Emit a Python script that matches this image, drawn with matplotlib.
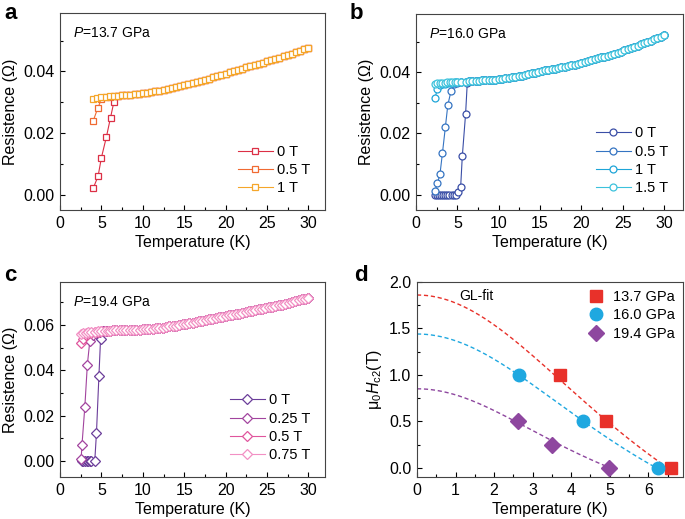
import numpy as np
import matplotlib
matplotlib.use("Agg")
import matplotlib.pyplot as plt
from matplotlib.ticker import MultipleLocator

plt.rcParams['font.family'] = ['Liberation Sans', 'DejaVu Sans']
plt.rcParams['mathtext.fontset'] = 'custom'
plt.rcParams['mathtext.rm'] = 'Liberation Sans'
plt.rcParams['mathtext.it'] = 'Liberation Sans:italic'

# ---------------- panel a, P = 13.7 GPa ----------------
a_normal_T = [7.0, 7.5, 8.0, 8.5, 9.0, 9.5, 10.0, 10.5, 11.0, 11.5, 12.0, 12.5,
              13.0, 13.5, 14.0, 14.5, 15.0, 15.5, 16.0, 16.5, 17.0, 17.5, 18.0,
              18.5, 19.0, 19.5, 20.0, 20.5, 21.0, 21.5, 22.0, 22.5, 23.0, 23.5,
              24.0, 24.5, 25.0, 25.5, 26.0, 26.5, 27.0, 27.5, 28.0, 28.5, 29.0,
              29.5, 30.0]
a_normal_R = [.0320, .0322, .0324, .0325, .0327, .0328, .0329, .0331, .0333,
              .0335, .0337, .0340, .0343, .0346, .0349, .0352, .0356, .0359,
              .0362, .0366, .0369, .0373, .0377, .0381, .0385, .0389, .0393,
              .0397, .0401, .0405, .0409, .0413, .0417, .0421, .0425, .0429,
              .0433, .0437, .0441, .0445, .0449, .0453, .0458, .0463, .0467,
              .0472, .0477]
a_fields = ['0 T', '0.5 T', '1 T']
a_low_T = [[4.0, 4.6, 5.0, 5.6, 6.1, 6.5],
           [4.0, 4.55, 5.0, 5.5, 6.0, 6.5],
           [4.0, 4.5, 5.0, 5.5, 6.0, 6.5]]
a_low_R = [[0.0020, 0.0060, 0.0120, 0.0187, 0.0250, 0.0300],
           [0.0239, 0.0280, 0.0310, 0.0316, 0.0318, 0.0319],
           [0.0310, 0.0315, 0.0317, 0.0318, 0.0319, 0.0320]]

# ---------------- panel b, P = 16.0 GPa ----------------
b_normal_T = [6.4, 6.8, 7.2, 7.6, 8.0, 8.4, 8.8, 9.2, 9.6, 10.0, 10.4, 10.8,
              11.2, 11.6, 12.0, 12.4, 12.8, 13.2, 13.6, 14.0, 14.4, 14.8, 15.2,
              15.6, 16.0, 16.4, 16.8, 17.2, 17.6, 18.0, 18.4, 18.8, 19.2, 19.6,
              20.0, 20.4, 20.8, 21.2, 21.6, 22.0, 22.4, 22.8, 23.2, 23.6, 24.0,
              24.4, 24.8, 25.2, 25.6, 26.0, 26.4, 26.8, 27.2, 27.6, 28.0, 28.4,
              28.8, 29.2, 29.6, 30.0]
b_normal_R = [.0370, .0370, .0371, .0372, .0373, .0373, .0374, .0375, .0376,
              .0377, .0378, .0380, .0381, .0383, .0385, .0387, .0389, .0391,
              .0393, .0396, .0398, .0401, .0403, .0406, .0408, .0410, .0412,
              .0414, .0416, .0418, .0420, .0422, .0425, .0427, .0430, .0433,
              .0436, .0439, .0442, .0445, .0448, .0451, .0454, .0457, .0460,
              .0464, .0467, .0471, .0475, .0479, .0483, .0487, .0491, .0495,
              .0499, .0503, .0507, .0511, .0516, .0521]
b_fields = ['0 T', '0.5 T', '1 T', '1.5 T']
b_low_T = [[2.3, 2.55, 2.8, 3.05, 3.3, 3.55, 3.8, 4.05, 4.3, 4.55, 4.8, 5.1,
            5.4, 5.6, 6.0, 6.2],
           [2.3, 2.6, 2.9, 3.2, 3.55, 3.85, 4.25, 4.55, 5.0, 5.5, 6.0],
           [2.3, 2.6, 2.9, 3.2, 3.5, 3.8, 4.1, 4.4, 4.7, 5.0, 5.5, 6.0],
           [2.3, 2.6, 2.9, 3.2, 3.5, 3.8, 4.1, 4.4, 4.7, 5.0, 5.5, 6.0]]
b_low_R = [[0, 0, 0, 0, 0, 0, 0, 0, 0, 0, 0, 0.0009, 0.0024, 0.0125, 0.0264,
            0.0364],
           [0.0013, 0.0038, 0.0067, 0.0136, 0.0220, 0.0293, 0.0340, 0.0360,
            0.0366, 0.0367, 0.0369],
           [0.0317, 0.0345, 0.0357, 0.0360, 0.0362, 0.0364, 0.0365, 0.0366,
            0.0367, 0.0367, 0.0368, 0.0369],
           [0.0362, 0.0364, 0.0365, 0.0366, 0.0366, 0.0367, 0.0367, 0.0367,
            0.0368, 0.0368, 0.0369, 0.0369]]

# ---------------- panel c, P = 19.4 GPa ----------------
c_normal_T = [6.0, 6.4, 6.8, 7.2, 7.6, 8.0, 8.4, 8.8, 9.2, 9.6, 10.0, 10.4,
              10.8, 11.2, 11.6, 12.0, 12.4, 12.8, 13.2, 13.6, 14.0, 14.4, 14.8,
              15.2, 15.6, 16.0, 16.4, 16.8, 17.2, 17.6, 18.0, 18.4, 18.8, 19.2,
              19.6, 20.0, 20.4, 20.8, 21.2, 21.6, 22.0, 22.4, 22.8, 23.2, 23.6,
              24.0, 24.4, 24.8, 25.2, 25.6, 26.0, 26.4, 26.8, 27.2, 27.6, 28.0,
              28.4, 28.8, 29.2, 29.6, 30.0]
c_normal_R = [.0576, .0577, .0577, .0577, .0578, .0578, .0578, .0579, .0579,
              .0580, .0581, .0582, .0583, .0584, .0586, .0587, .0589, .0591,
              .0594, .0596, .0598, .0600, .0603, .0605, .0608, .0610, .0613,
              .0616, .0619, .0622, .0625, .0628, .0631, .0634, .0637, .0640,
              .0643, .0646, .0648, .0651, .0654, .0657, .0660, .0663, .0666,
              .0669, .0672, .0675, .0678, .0681, .0684, .0687, .0690, .0693,
              .0697, .0701, .0705, .0709, .0713, .0717, .0721]
c_fields = ['0 T', '0.25 T', '0.5 T', '0.75 T']
c_low_T = [[2.6, 2.8, 3.0, 3.2, 3.4, 3.6, 3.8, 4.2, 4.4, 4.7, 4.9, 5.3, 5.7],
           [2.55, 2.65, 3.0, 3.3, 3.6, 4.0, 4.4, 4.8, 5.2, 5.6],
           [2.5, 2.8, 3.1, 3.4, 3.8, 4.2, 4.6, 5.0, 5.4, 5.8],
           [2.5, 2.8, 3.1, 3.4, 3.8, 4.2, 4.6, 5.0, 5.4, 5.8]]
c_low_R = [[0, 0, 0, 0, 0, 0, 0, 0.0002, 0.0122, 0.0376, 0.0540, 0.0572, 0.0575],
           [0.0009, 0.0070, 0.0240, 0.0424, 0.0530, 0.0556, 0.0565, 0.0570,
            0.0573, 0.0575],
           [0.0522, 0.0540, 0.0555, 0.0560, 0.0565, 0.0568, 0.0570, 0.0572,
            0.0574, 0.0575],
           [0.0560, 0.0565, 0.0567, 0.0569, 0.0570, 0.0571, 0.0572, 0.0573,
            0.0574, 0.0575]]

# ---------------- panel d, Hc2 vs T ----------------
d_labels = ['13.7 GPa', '16.0 GPa', '19.4 GPa']
d_T = [[3.7, 4.9, 6.6], [2.65, 4.3, 6.25], [2.62, 3.5, 4.97]]
d_H = [[1.0, 0.5, 0.0], [1.0, 0.5, 0.0], [0.5, 0.25, 0.0]]
# GL fit parameters: Hc2(0) and Tc
d_H0 = [1.86, 1.44, 0.85]
d_Tc = [6.5, 6.2, 5.0]

col_a = ['#dc2f45', '#f06a32', '#f5a62a']
col_b = ['#3a4ea6', '#3574c2', '#1ea5d8', '#3cc2dc']
col_c = ['#6b3d9a', '#a2449e', '#e0559d', '#f290c4']
col_d = ['#e8312a', '#1fa8e0', '#8e479f']

fig = plt.figure(figsize=(6.85, 5.19), dpi=100)
W, H = 685, 519


def add_ax(l, t, r, b):
    return fig.add_axes([l / W, 1 - b / H, (r - l) / W, (b - t) / H])


def style(ax):
    ax.tick_params(which='both', direction='in', top=False, right=False,
                   labelsize=11.5, width=0.8)
    ax.tick_params(which='major', length=3.5, pad=4)
    ax.tick_params(which='minor', length=2)
    for s in ax.spines.values():
        s.set_linewidth(0.8)
        s.set_color('#444444')


def resist_panel(ax, nT, nR, fields, lowT, lowR, cols, marker, ptxt):
    for f, lt, lr, c in zip(fields, lowT, lowR, cols):
        ax.plot(list(lt) + nT, list(lr) + nR, marker=marker, ms=5, mfc='white',
                mec=c, mew=0.9, color=c, lw=0.8, label=f)
    style(ax)
    ax.set_xlabel('Temperature (K)', fontsize=11.5, labelpad=3)
    ax.set_ylabel('Resistence (Ω)', fontsize=11.5)
    ax.xaxis.set_major_locator(MultipleLocator(5))
    ax.xaxis.set_minor_locator(MultipleLocator(2.5))
    ax.yaxis.set_minor_locator(MultipleLocator(0.01))
    ax.text(0.05, 0.90, ptxt, transform=ax.transAxes, fontsize=10,
            va='center', ha='left')
    ax.legend(loc='lower right', frameon=False, fontsize=10.5, numpoints=1,
              handlelength=2.4, handletextpad=0.3, labelspacing=0.3,
              borderaxespad=0.6)


ax_a = add_ax(60, 13, 325, 210)
resist_panel(ax_a, a_normal_T, a_normal_R, a_fields, a_low_T, a_low_R, col_a,
             's', '$P$=13.7 GPa')
ax_a.set_xlim(0, 32)
ax_a.set_ylim(-0.005, 0.059)
ax_a.set_yticks([0.0, 0.02, 0.04])
ax_a.set_yticklabels(['0.00', '0.02', '0.04'])

ax_b = add_ax(416, 14, 683, 210)
resist_panel(ax_b, b_normal_T, b_normal_R, b_fields, b_low_T, b_low_R, col_b,
             'o', '$P$=16.0 GPa')
ax_b.set_xlim(0, 32.3)
ax_b.set_ylim(-0.005, 0.059)
ax_b.set_yticks([0.0, 0.02, 0.04])
ax_b.set_yticklabels(['0.00', '0.02', '0.04'])

ax_c = add_ax(60, 282, 325, 477)
resist_panel(ax_c, c_normal_T, c_normal_R, c_fields, c_low_T, c_low_R, col_c,
             'D', '$P$=19.4 GPa')
ax_c.set_xlim(0, 32)
ax_c.set_ylim(-0.007, 0.079)
ax_c.set_yticks([0.0, 0.02, 0.04, 0.06])
ax_c.set_yticklabels(['0.00', '0.02', '0.04', '0.06'])
for ln in ax_c.lines:
    ln.set_markersize(4.8)

ax_d = add_ax(417, 282, 683, 477)
markers_d = ['s', 'o', 'D']
sizes_d = [8, 9, 8]
for lab, t, h, h0, tc, c, m, ms in zip(d_labels, d_T, d_H, d_H0, d_Tc, col_d,
                                        markers_d, sizes_d):
    tt = np.linspace(0, tc, 200)
    r = tt / tc
    ax_d.plot(tt, h0 * (1 - r ** 2) / (1 + r ** 2), '--', color=c, lw=1.0,
              dashes=(3, 2))
    ax_d.plot(t, h, ls='none', marker=m, ms=ms, color=c, mec=c, label=lab,
              zorder=3)
style(ax_d)
ax_d.set_xlim(0, 6.9)
ax_d.set_ylim(-0.1, 2.0)
ax_d.xaxis.set_major_locator(MultipleLocator(1))
ax_d.xaxis.set_minor_locator(MultipleLocator(0.5))
ax_d.yaxis.set_major_locator(MultipleLocator(0.5))
ax_d.yaxis.set_minor_locator(MultipleLocator(0.25))
ax_d.yaxis.set_major_formatter(matplotlib.ticker.FormatStrFormatter('%.1f'))
ax_d.set_xlabel('Temperature (K)', fontsize=11.5, labelpad=3)
ax_d.set_ylabel(r'$\mathrm{\mu_0}H_{\mathrm{c2}}$(T)', fontsize=11.5)
ax_d.text(1.1, 1.85, 'GL-fit', fontsize=10, va='center', ha='left')
ax_d.legend(loc='upper right', frameon=False, fontsize=10.5, numpoints=1,
            handlelength=1.2, handletextpad=0.6, labelspacing=0.3,
            borderaxespad=0.15)

fig.text(4 / W, 1 - 3 / H, 'a', fontsize=16, fontweight='bold', va='top')
fig.text(350 / W, 1 - 3 / H, 'b', fontsize=16, fontweight='bold', va='top')
fig.text(4 / W, 1 - 265 / H, 'c', fontsize=16, fontweight='bold', va='top')
fig.text(354 / W, 1 - 265 / H, 'd', fontsize=16, fontweight='bold', va='top')

fig.savefig('out.png', dpi=100)
